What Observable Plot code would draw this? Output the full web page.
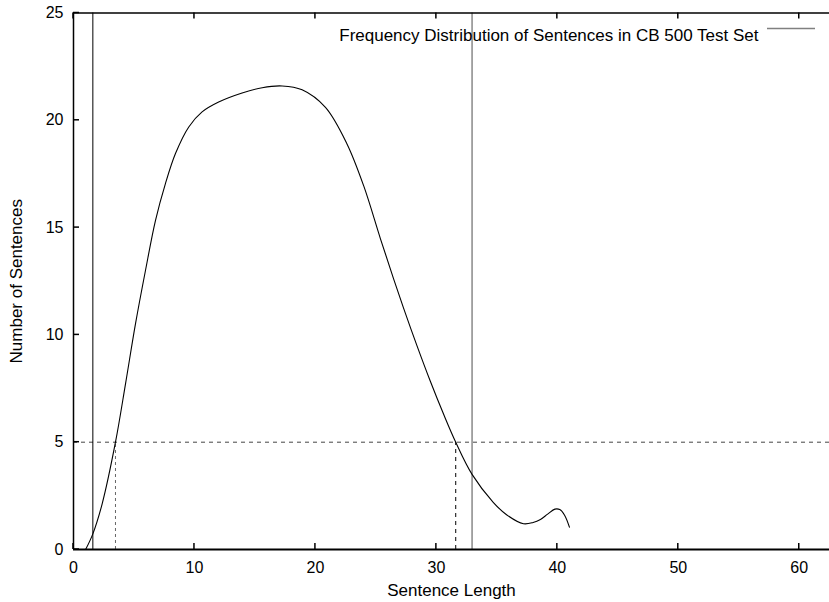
<!DOCTYPE html>
<html><head><meta charset="utf-8">
<script src="https://cdn.jsdelivr.net/npm/d3@7"></script>
<script src="https://cdn.jsdelivr.net/npm/@observablehq/plot@0.6"></script>
<style>
html,body{margin:0;padding:0;background:#fff}
</style>
</head><body><div id="c"></div>
<script>
const lengths = [1.0, 1.6, 2.37, 3.47, 4.3, 5.12, 5.95, 6.78, 7.6, 8.43, 9.53, 10.63, 12.0, 13.94, 15.6, 17.25, 18.9, 20.83, 22.6, 24.0, 25.37, 26.47, 27.44, 28.4, 29.5, 30.6, 31.6, 32.95, 34.7, 35.8, 37.2, 38.0, 38.6, 39.2, 39.8, 40.2, 40.6, 41.0];
const counts  = [0.0, 0.73, 2.13, 5.0, 7.72, 10.5, 13.0, 15.34, 17.05, 18.45, 19.69, 20.39, 20.85, 21.27, 21.52, 21.6, 21.42, 20.6, 18.91, 16.93, 14.49, 12.6, 11.0, 9.49, 7.84, 6.3, 5.0, 3.5, 2.2, 1.62, 1.2, 1.26, 1.4, 1.65, 1.88, 1.86, 1.6, 1.04];
const threshold = 5;
const crossings = [3.47, 31.6];
const bounds = [1.6, 32.95];
const xTicks = [0, 10, 20, 30, 40, 50, 60];
const yTicks = [0, 5, 10, 15, 20, 25];
const xDomain = [0, 62.5];
const yDomain = [0, 25];
const seriesLabel = "Frequency Distribution of Sentences in CB 500 Test Set";
const xLabel = "Sentence Length";
const yLabel = "Number of Sentences";

const data = lengths.map((x, i) => ({x, y: counts[i]}));
const font = '"Liberation Sans", Arial, Helvetica, sans-serif';

const W = 829, H = 602, mL = 73, mR = 0, mT = 12.5, mB = 53;
const tick = 6;

const chart = Plot.plot({
  width: W, height: H,
  marginLeft: mL, marginRight: mR, marginTop: mT, marginBottom: mB,
  style: {fontFamily: font, fontSize: "16px", color: "#000", background: "#fff", overflow: "visible"},
  x: {domain: xDomain},
  y: {domain: yDomain},
  marks: [
    Plot.ruleY([threshold], {stroke: "#444", strokeDasharray: "4,4"}),
    Plot.ruleX([crossings[0]], {y1: yDomain[0], y2: threshold, stroke: "#666", strokeDasharray: "3,3"}),
    Plot.ruleX([crossings[1]], {y1: yDomain[0], y2: threshold, stroke: "#000", strokeDasharray: "4,4"}),
    Plot.ruleX([bounds[0]], {stroke: "#000", strokeWidth: 1}),
    Plot.ruleX([bounds[1]], {stroke: "#808080", strokeWidth: 1.4}),
    Plot.line(data, {x: "x", y: "y", curve: "catmull-rom", stroke: "#000", strokeWidth: 1.1}),
    // border
    Plot.ruleY([yDomain[0]], {stroke: "#000", strokeWidth: 2}),
    Plot.ruleY([yDomain[1]], {stroke: "#000", strokeWidth: 1.5}),
    Plot.ruleX([xDomain[0]], {stroke: "#000", strokeWidth: 1.5}),
    Plot.axisX({ticks: xTicks, tickSize: 0, tickPadding: 12, fontSize: 16, label: xLabel, labelAnchor: "center", labelOffset: 46, labelArrow: "none"}),
    Plot.axisY({ticks: yTicks, tickSize: 0, tickPadding: 10, fontSize: 16, label: yLabel, labelAnchor: "center", labelOffset: 64, labelArrow: "none"}),
    Plot.text([seriesLabel], {frameAnchor: "top-right", text: d => d, textAnchor: "end", dx: -71, dy: 16, fontSize: 17})
  ]
});
document.getElementById("c").appendChild(chart);

const svg = d3.select(chart);
svg.selectAll("[aria-label$='-axis label'] text, [aria-label$='-axis label']").attr("font-size", 17);

// inward (gnuplot-style) tick marks, positioned with Plot's own scales
const sx = chart.scale("x"), sy = chart.scale("y");
const y0 = sy.apply(yDomain[0]), y1 = sy.apply(yDomain[1]), x0 = sx.apply(xDomain[0]);
const g = svg.append("g").attr("stroke", "#000").attr("stroke-width", 1.5);
for (const t of xTicks) {
  const x = sx.apply(t);
  g.append("line").attr("x1", x).attr("x2", x).attr("y1", y0).attr("y2", y0 - tick);
  g.append("line").attr("x1", x).attr("x2", x).attr("y1", y1).attr("y2", y1 + tick);
}
for (const t of yTicks) {
  const y = sy.apply(t);
  g.append("line").attr("x1", x0).attr("x2", x0 + tick).attr("y1", y).attr("y2", y);
}

// legend sample line
svg.append("line")
  .attr("x1", 767).attr("x2", 815).attr("y1", 28.5).attr("y2", 28.5)
  .attr("stroke", "#808080").attr("stroke-width", 1.4);
</script>
</body></html>
